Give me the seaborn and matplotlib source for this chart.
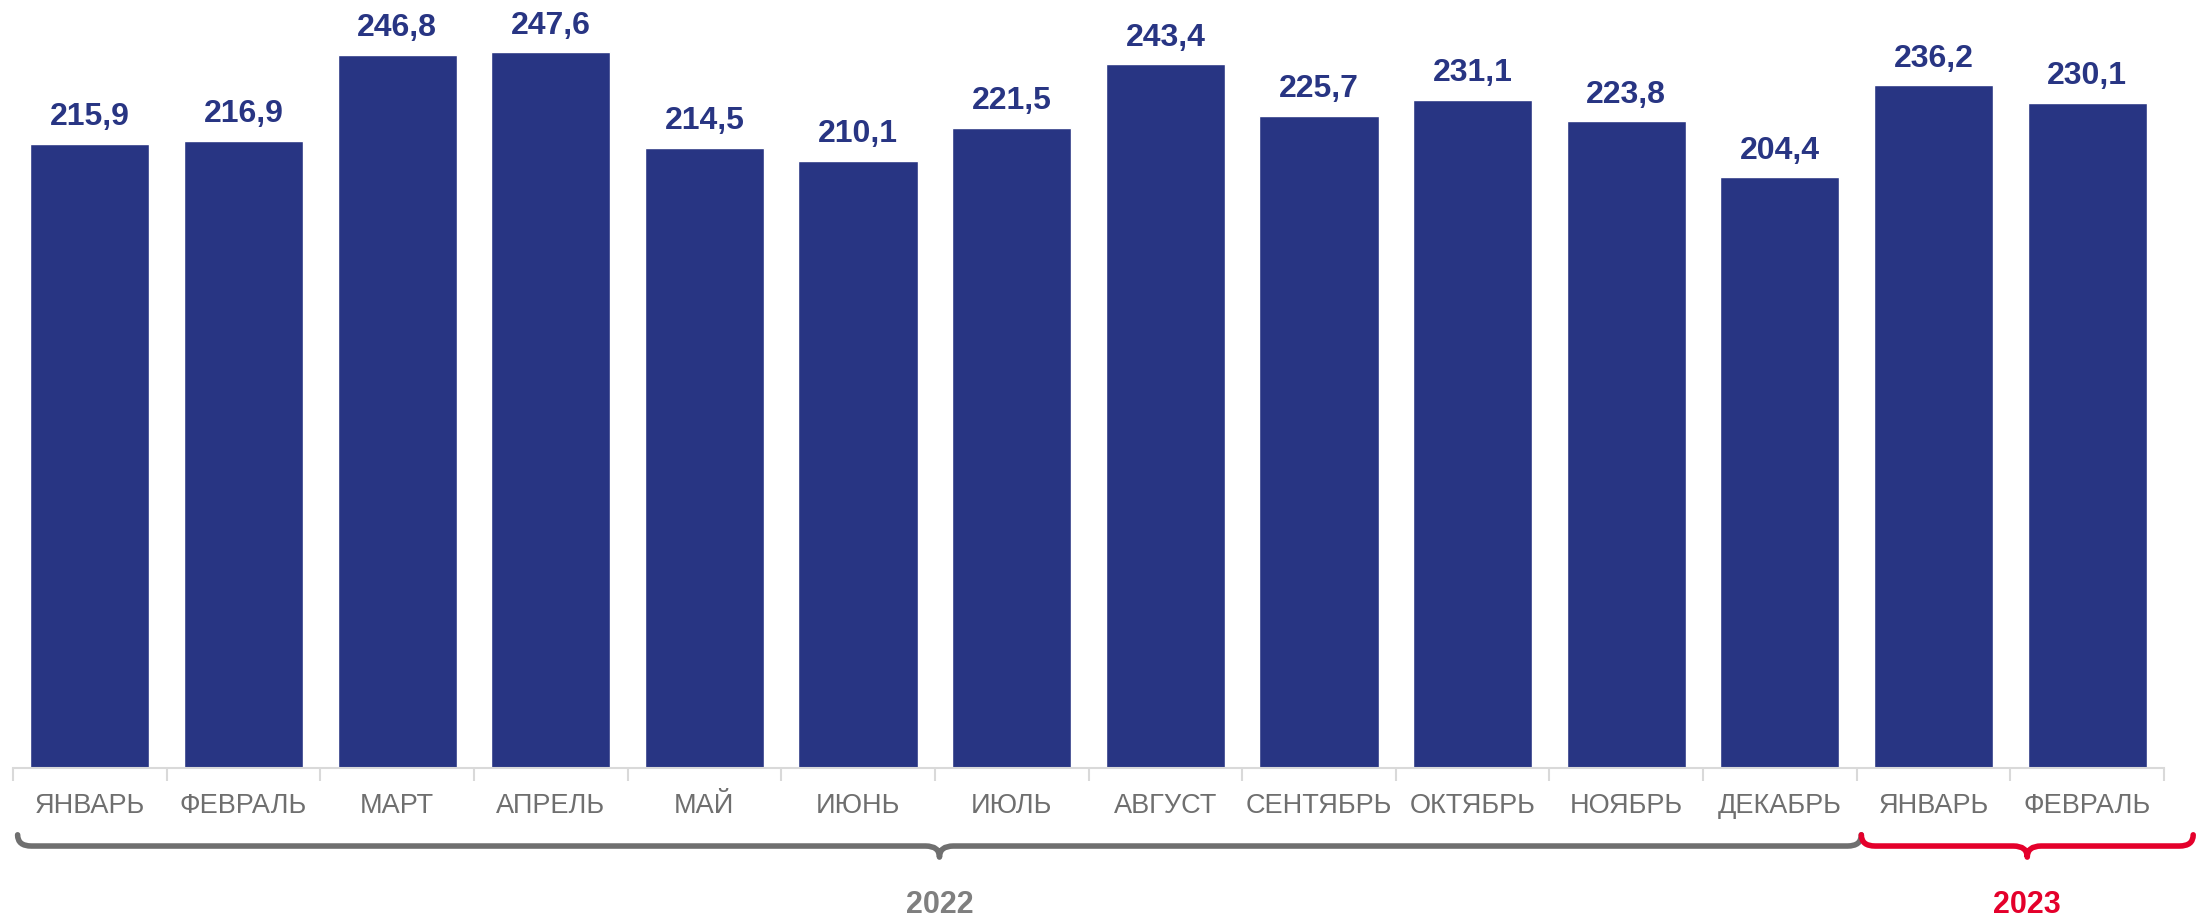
import numpy as np
import pandas as pd
import matplotlib.pyplot as plt
import matplotlib.transforms as mtransforms
from matplotlib.path import Path
from matplotlib.patches import PathPatch
import seaborn as sns

# data
months = ['ЯНВАРЬ', 'ФЕВРАЛЬ', 'МАРТ', 'АПРЕЛЬ', 'МАЙ', 'ИЮНЬ', 'ИЮЛЬ', 'АВГУСТ',
          'СЕНТЯБРЬ', 'ОКТЯБРЬ', 'НОЯБРЬ', 'ДЕКАБРЬ', 'ЯНВАРЬ', 'ФЕВРАЛЬ']
values = [215.9, 216.9, 246.8, 247.6, 214.5, 210.1, 221.5, 243.4,
          225.7, 231.1, 223.8, 204.4, 236.2, 230.1]
years = ['2022', '2023']
year_counts = [12, 2]

bar_color = '#283583'
grey = '#6f6f6f'
red = '#e4002b'

sns.set_style('white')
plt.rcParams['font.family'] = ['Liberation Sans', 'DejaVu Sans']

df = pd.DataFrame({'pos': range(len(values)), 'value': values})

fig = plt.figure(figsize=(21.96, 9.16), dpi=100)
ax = fig.add_axes([13 / 2196, (916 - 768) / 916, (2164 - 13) / 2196, 768 / 916])
sns.barplot(data=df, x='pos', y='value', color=bar_color, saturation=1,
            width=0.775, ax=ax)

ax.set_xlim(-0.5, len(values) - 0.5)
ax.set_ylim(0, 265.7)
ax.set_xlabel('')
ax.set_ylabel('')
ax.set_yticks([])

# value labels
for i, v in enumerate(values):
    ax.text(i, v + 4, f'{v:.1f}'.replace('.', ','), ha='center', va='bottom',
            fontsize=23, fontweight='bold', color=bar_color)

# month labels
ax.set_xticks(range(len(months)))
ax.set_xticklabels(months, fontsize=19.5, color=grey)
ax.tick_params(axis='x', which='major', length=0, pad=18)
ax.set_xticks(np.arange(-0.5, len(months), 1), minor=True)
ax.tick_params(axis='x', which='minor', bottom=True, length=9, width=1.5,
               color='#d9d9d9')

for s in ['top', 'right', 'left']:
    ax.spines[s].set_visible(False)
ax.spines['bottom'].set_color('#d9d9d9')
ax.spines['bottom'].set_linewidth(1.5)

# braces under the months
trans = mtransforms.blended_transform_factory(ax.transData, ax.transAxes)


def brace(x0, x1, color):
    y_top, y_bar, y_tip = -0.087, -0.1016, -0.116
    r = 0.09
    xm = (x0 + x1) / 2
    verts = [(x0, y_top), (x0, y_bar), (x0 + r, y_bar),
             (xm - r, y_bar),
             (xm, y_bar), (xm, y_tip),
             (xm, y_bar), (xm + r, y_bar),
             (x1 - r, y_bar),
             (x1, y_bar), (x1, y_top)]
    codes = [Path.MOVETO, Path.CURVE3, Path.CURVE3,
             Path.LINETO,
             Path.CURVE3, Path.CURVE3,
             Path.CURVE3, Path.CURVE3,
             Path.LINETO,
             Path.CURVE3, Path.CURVE3]
    ax.add_patch(PathPatch(Path(verts, codes), fill=False, edgecolor=color,
                           lw=4, transform=trans, clip_on=False,
                           capstyle='round', joinstyle='round'))
    return xm


start = -0.47
for k, (yr, n) in enumerate(zip(years, year_counts)):
    end = start + n if k < len(years) - 1 else start + n + 0.16
    col = grey if k == 0 else red
    xm = brace(start, end, col)
    ax.text(xm, -0.178, yr, transform=trans, ha='center', va='center',
            fontsize=22, fontweight='bold', color=col if k else '#7f7f7f')
    start = end

fig.savefig('out.png', dpi=100)
